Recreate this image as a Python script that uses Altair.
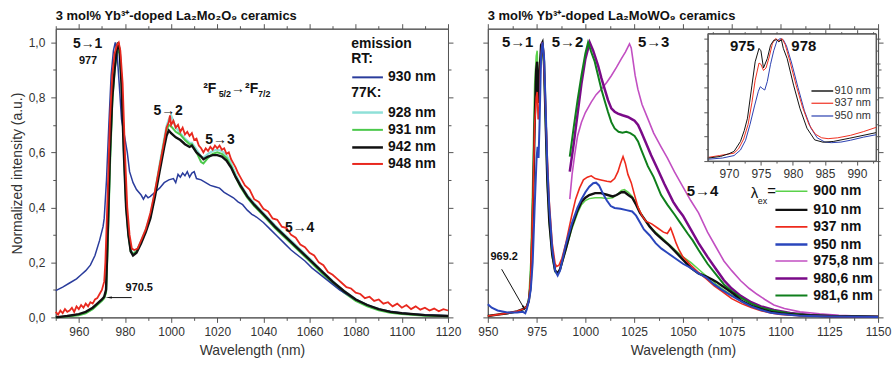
import altair as alt
import pandas as pd

FONT = "Liberation Sans"

# ---------------- left panel (La2Mo2O9) ----------------
L_BLUE_NM = [950, 953, 956, 959, 961, 963, 965, 967, 969, 970.5, 971, 972, 973, 974, 975, 975.8, 976.5, 977.5, 978.5,
             980, 981, 982, 983.5, 985, 987, 988, 989, 990, 991, 993, 995, 997, 999, 1001, 1002, 1003, 1004, 1005,
             1006, 1007, 1008, 1009, 1010, 1011, 1013, 1015, 1017, 1019, 1021, 1023, 1025, 1027, 1029, 1031, 1033,
             1035, 1037, 1040, 1043, 1046, 1049, 1052, 1055, 1058, 1061, 1064, 1067, 1070, 1073, 1076, 1080, 1085,
             1090, 1095, 1100, 1105, 1110, 1115, 1120]
L_BLUE_V = [0.097, 0.11, 0.125, 0.14, 0.155, 0.17, 0.19, 0.225, 0.28, 0.33, 0.36, 0.5, 0.7, 0.88, 0.97, 1.0, 0.97,
            0.85, 0.72, 0.65, 0.6, 0.53, 0.49, 0.465, 0.445, 0.43, 0.445, 0.435, 0.44, 0.455, 0.47, 0.49, 0.5, 0.505,
            0.49, 0.52, 0.51, 0.525, 0.515, 0.53, 0.51, 0.525, 0.53, 0.505, 0.5, 0.49, 0.48, 0.475, 0.47, 0.455,
            0.445, 0.435, 0.42, 0.41, 0.39, 0.375, 0.365, 0.345, 0.32, 0.295, 0.27, 0.245, 0.225, 0.205, 0.18, 0.16,
            0.14, 0.12, 0.1, 0.085, 0.065, 0.045, 0.03, 0.022, 0.016, 0.012, 0.01, 0.008, 0.006]

L_77K_NM = [950, 955, 960, 963, 966, 968, 970, 971, 971.8, 972.5, 973.5, 974.5, 975.5, 976.5, 977, 977.7, 978.5,
            979.5, 980.5, 981.5, 982.5, 983.5, 985, 987, 989, 991, 993, 995, 997, 998, 999, 1000, 1002, 1004, 1006,
            1008, 1009, 1011, 1013, 1014, 1016, 1018, 1020, 1022, 1024, 1026, 1028, 1030, 1033, 1036, 1040, 1045,
            1050, 1055, 1060, 1065, 1070, 1075, 1080, 1085, 1090, 1095, 1100, 1110, 1120]
L_BLACK_V = [0.0, 0.005, 0.012, 0.02, 0.035, 0.05, 0.065, 0.075, 0.1, 0.3, 0.6, 0.8, 0.9, 0.98, 1.0, 0.97, 0.85, 0.6,
             0.4, 0.3, 0.24, 0.225, 0.235, 0.27, 0.31, 0.36, 0.44, 0.53, 0.62, 0.66, 0.68, 0.67, 0.655, 0.645, 0.63,
             0.62, 0.625, 0.6, 0.585, 0.575, 0.585, 0.59, 0.59, 0.585, 0.57, 0.545, 0.51, 0.48, 0.44, 0.41, 0.375,
             0.33, 0.29, 0.25, 0.21, 0.17, 0.13, 0.095, 0.065, 0.045, 0.03, 0.02, 0.015, 0.008, 0.005]
L_GREEN_V = [0.0, 0.003, 0.008, 0.015, 0.03, 0.045, 0.06, 0.07, 0.09, 0.25, 0.55, 0.78, 0.9, 0.96, 0.97, 0.96, 0.86,
             0.62, 0.41, 0.3, 0.24, 0.23, 0.24, 0.275, 0.315, 0.365, 0.45, 0.545, 0.64, 0.68, 0.7, 0.695, 0.675,
             0.665, 0.645, 0.63, 0.63, 0.6, 0.565, 0.56, 0.58, 0.595, 0.6, 0.595, 0.58, 0.55, 0.51, 0.475, 0.435,
             0.405, 0.37, 0.325, 0.285, 0.245, 0.205, 0.163, 0.125, 0.09, 0.06, 0.04, 0.026, 0.017, 0.012, 0.006,
             0.004]
L_CYAN_V = [0.0, 0.004, 0.01, 0.017, 0.032, 0.047, 0.062, 0.072, 0.095, 0.28, 0.58, 0.8, 0.91, 0.97, 0.98, 0.965,
            0.86, 0.62, 0.41, 0.305, 0.245, 0.232, 0.242, 0.278, 0.32, 0.37, 0.455, 0.555, 0.65, 0.695, 0.72, 0.735,
            0.69, 0.67, 0.65, 0.635, 0.635, 0.61, 0.585, 0.58, 0.595, 0.605, 0.61, 0.605, 0.59, 0.56, 0.52, 0.485,
            0.445, 0.415, 0.38, 0.335, 0.295, 0.255, 0.215, 0.172, 0.132, 0.096, 0.066, 0.045, 0.03, 0.02, 0.014,
            0.007, 0.005]

L_RED_NM = [950, 951, 952, 953, 954, 955, 956, 957, 958, 959, 960, 961, 962, 963, 964, 965, 966, 967, 968, 969, 970,
            971, 971.5, 972.5, 973.5, 974.5, 975.5, 976.5, 977.3, 978, 979, 980, 981, 982, 983, 984, 985.5, 987, 989,
            991, 993, 995, 997, 998, 999, 999.5, 1000, 1001, 1002, 1003, 1004, 1005, 1006, 1007, 1008, 1009, 1010,
            1011, 1012, 1013, 1014, 1015, 1016, 1017, 1018, 1019, 1020, 1021, 1022, 1023, 1024, 1025, 1026, 1027,
            1028, 1029, 1030, 1032, 1034, 1036, 1038, 1040, 1042, 1044, 1046, 1048, 1050, 1052, 1054, 1056, 1058,
            1060, 1062, 1064, 1066, 1068, 1070, 1072, 1074, 1076, 1078, 1080, 1082, 1084, 1086, 1088, 1090, 1092,
            1094, 1096, 1098, 1100, 1102, 1104, 1106, 1108, 1110, 1112, 1114, 1116, 1118, 1120]
L_RED_V = [0.02, 0.01, 0.025, 0.015, 0.03, 0.02, 0.025, 0.035, 0.02, 0.04, 0.03, 0.045, 0.035, 0.05, 0.04, 0.055,
           0.05, 0.065, 0.07, 0.085, 0.1, 0.13, 0.2, 0.45, 0.72, 0.88, 0.96, 0.99, 1.0, 0.97, 0.85, 0.6, 0.4, 0.3,
           0.25, 0.245, 0.25, 0.28, 0.32, 0.38, 0.46, 0.55, 0.64, 0.69, 0.71, 0.735, 0.7, 0.715, 0.69, 0.7, 0.675,
           0.69, 0.665, 0.675, 0.66, 0.67, 0.645, 0.65, 0.625, 0.615, 0.6, 0.615, 0.605, 0.62, 0.61, 0.625, 0.615,
           0.625, 0.61, 0.615, 0.595, 0.6, 0.575, 0.56, 0.545, 0.525, 0.51, 0.48, 0.465, 0.43, 0.42, 0.395, 0.385,
           0.36, 0.355, 0.33, 0.325, 0.3, 0.29, 0.265, 0.255, 0.235, 0.225, 0.2, 0.19, 0.165, 0.155, 0.14, 0.125,
           0.11, 0.105, 0.09, 0.085, 0.07, 0.075, 0.06, 0.065, 0.05, 0.055, 0.04, 0.05, 0.035, 0.045, 0.03, 0.04,
           0.028, 0.035, 0.025, 0.032, 0.022, 0.03, 0.025]

# ---------------- right panel (La2MoWO9) ----------------
R_FULL_NM = [950, 955, 960, 965, 968, 970, 971, 972, 973, 974, 974.8, 975.3, 975.8, 976.5, 977.3, 978, 978.8, 979.5,
             980.5, 981.5, 983, 984.5, 985.8, 987, 990, 993, 996, 998, 1000, 1002, 1005, 1008, 1011, 1014, 1016,
             1018.5, 1020, 1022, 1024, 1026, 1028, 1030, 1033, 1036, 1040, 1043, 1046, 1050, 1054, 1058, 1062, 1065,
             1067, 1070, 1073, 1076, 1080, 1085, 1090, 1095, 1100, 1110, 1125, 1150]
R_900_V = [0.005, 0.01, 0.014, 0.02, 0.028, 0.04, 0.07, 0.2, 0.5, 0.85, 0.95, 0.97, 0.85, 0.9, 0.98, 0.99, 0.9, 0.72,
           0.48, 0.34, 0.22, 0.165, 0.158, 0.172, 0.245, 0.32, 0.38, 0.41, 0.425, 0.432, 0.435, 0.435, 0.432, 0.435,
           0.445, 0.462, 0.465, 0.455, 0.44, 0.415, 0.385, 0.36, 0.33, 0.31, 0.285, 0.265, 0.245, 0.22, 0.2, 0.175,
           0.15, 0.135, 0.12, 0.105, 0.09, 0.077, 0.058, 0.04, 0.028, 0.019, 0.013, 0.007, 0.003, 0.001]
R_910_V = [0.005, 0.01, 0.015, 0.022, 0.03, 0.04, 0.06, 0.12, 0.35, 0.7, 0.9, 0.93, 0.78, 0.88, 0.99, 1.0, 0.93, 0.75,
           0.5, 0.35, 0.23, 0.17, 0.16, 0.175, 0.25, 0.33, 0.39, 0.42, 0.435, 0.445, 0.452, 0.452, 0.446, 0.44,
           0.445, 0.455, 0.456, 0.445, 0.435, 0.41, 0.38, 0.36, 0.33, 0.305, 0.28, 0.262, 0.24, 0.21, 0.18, 0.16,
           0.148, 0.138, 0.13, 0.115, 0.1, 0.085, 0.06, 0.042, 0.03, 0.02, 0.014, 0.008, 0.004, 0.002]

R_937_NM = [950, 955, 960, 965, 968, 970, 971, 972, 973, 974, 974.8, 975.3, 975.8, 976.3, 977, 977.8, 978.5, 979.5,
            980.5, 981.5, 983, 984.5, 985.3, 986.5, 988, 990, 993, 995, 997, 999, 1001, 1003, 1005, 1008, 1011, 1013,
            1015, 1016.7, 1018, 1019.3, 1020.5, 1021.8, 1023.5, 1025, 1027, 1029, 1031, 1034, 1037, 1040, 1042,
            1043.7, 1045, 1046.5, 1048, 1050, 1054, 1058, 1062, 1066, 1070, 1075, 1080, 1085, 1090, 1095, 1100,
            1110, 1125, 1150]
R_937_V = [0.005, 0.01, 0.015, 0.022, 0.03, 0.04, 0.06, 0.15, 0.4, 0.7, 0.8, 0.82, 0.72, 0.74, 0.92, 1.0, 0.97, 0.78,
           0.58, 0.42, 0.27, 0.195, 0.185, 0.19, 0.215, 0.27, 0.37, 0.43, 0.47, 0.5, 0.51, 0.515, 0.505, 0.5, 0.495,
           0.493, 0.505, 0.53, 0.56, 0.585, 0.56, 0.52, 0.49, 0.45, 0.4, 0.37, 0.35, 0.34, 0.325, 0.31, 0.305, 0.325,
           0.3, 0.27, 0.245, 0.22, 0.19, 0.163, 0.14, 0.115, 0.095, 0.068, 0.05, 0.036, 0.024, 0.016, 0.011, 0.006,
           0.003, 0.001]

R_950_NM = [950, 952, 955, 960, 965, 968, 969.2, 970, 971, 972, 973, 974, 975, 975.5, 976, 976.5, 977.3, 978, 978.8,
            979.5, 980.5, 981.5, 983, 984.5, 985.8, 987, 990, 993, 996, 998, 1000, 1002, 1004, 1005.5, 1007, 1009,
            1011, 1013, 1015, 1018, 1021, 1024, 1026, 1028, 1030, 1033, 1036, 1039, 1042, 1046, 1050, 1054, 1058,
            1062, 1066, 1070, 1075, 1080, 1085, 1090, 1095, 1100, 1110, 1125, 1150]
R_950_V = [0.048, 0.035, 0.025, 0.018, 0.018, 0.02, 0.015, 0.03, 0.06, 0.1, 0.2, 0.4, 0.58, 0.62, 0.58, 0.7, 0.95,
           1.0, 0.95, 0.8, 0.55, 0.4, 0.25, 0.17, 0.152, 0.17, 0.265, 0.34, 0.4, 0.43, 0.455, 0.475, 0.488, 0.49,
           0.48, 0.45, 0.425, 0.405, 0.398, 0.395, 0.39, 0.385, 0.37, 0.345, 0.32, 0.298, 0.27, 0.25, 0.235, 0.215,
           0.195, 0.18, 0.16, 0.145, 0.12, 0.1, 0.078, 0.058, 0.04, 0.027, 0.017, 0.012, 0.006, 0.003, 0.001]

R_9816_NM = [992, 994, 996, 998, 1000, 1001.4, 1003, 1004.8, 1006.5, 1008.2, 1010, 1011.6, 1013.3, 1015, 1017, 1019,
             1021, 1023, 1025.2, 1027, 1028.6, 1030.3, 1032, 1035, 1038.8, 1042, 1045.6, 1049, 1052.4, 1055, 1058,
             1062.6, 1066, 1071, 1075, 1079.6, 1085, 1090, 1096.6, 1105, 1115, 1130, 1150]
R_9816_V = [0.585, 0.69, 0.79, 0.88, 0.96, 1.0, 0.965, 0.93, 0.88, 0.83, 0.785, 0.747, 0.71, 0.687, 0.675, 0.672,
            0.675, 0.67, 0.66, 0.64, 0.61, 0.58, 0.55, 0.51, 0.445, 0.41, 0.375, 0.34, 0.305, 0.28, 0.245, 0.195,
            0.165, 0.12, 0.095, 0.072, 0.05, 0.035, 0.024, 0.014, 0.008, 0.004, 0.002]

R_9806_NM = [992, 994, 996, 998, 1000, 1002.2, 1004, 1006.5, 1008.2, 1009.9, 1011.6, 1013.3, 1015, 1016.7, 1019,
             1021.8, 1024, 1025.2, 1027, 1028.6, 1031, 1033.7, 1037, 1040.5, 1045, 1047.3, 1050, 1054, 1058, 1062.6,
             1067, 1071, 1075, 1079.6, 1085, 1090, 1096.6, 1105, 1115, 1130, 1150]
R_9806_V = [0.53, 0.63, 0.74, 0.85, 0.94, 1.0, 0.97, 0.916, 0.87, 0.83, 0.79, 0.76, 0.748, 0.741, 0.735, 0.729, 0.72,
            0.715, 0.7, 0.675, 0.635, 0.59, 0.54, 0.485, 0.42, 0.395, 0.37, 0.32, 0.27, 0.22, 0.175, 0.135, 0.105,
            0.078, 0.055, 0.04, 0.027, 0.016, 0.009, 0.004, 0.002]

R_9758_NM = [992, 993.2, 994.5, 996, 998, 1000, 1003, 1005.5, 1008.2, 1011, 1013.3, 1016, 1018.4, 1020.5, 1022.6,
             1023.5, 1024.3, 1025.5, 1026.9, 1029, 1032, 1035, 1038.8, 1042, 1045.6, 1050, 1054, 1058, 1062.6, 1067,
             1071, 1075, 1079.6, 1084, 1088, 1092, 1096.6, 1102, 1110, 1120, 1130, 1140, 1150]
R_9758_V = [0.43, 0.52, 0.59, 0.66, 0.71, 0.745, 0.783, 0.81, 0.83, 0.855, 0.879, 0.91, 0.94, 0.965, 0.995, 0.98,
            0.94, 0.88, 0.83, 0.775, 0.723, 0.67, 0.62, 0.58, 0.53, 0.475, 0.425, 0.38, 0.31, 0.255, 0.205, 0.17,
            0.133, 0.105, 0.084, 0.065, 0.045, 0.032, 0.02, 0.013, 0.008, 0.005, 0.003]

# ---------------- inset (975 / 978 region) ----------------
I_910_NM = [966.7, 968.7, 970, 970.8, 971.8, 972.4, 972.9, 973.6, 974.1, 974.7, 975, 975.4, 976, 976.5, 977, 977.5,
            977.8, 978.2, 978.5, 979.1, 980.1, 981.1, 982.2, 983.4, 984.7, 986.3, 988.9, 993]
I_910_V = [0.024, 0.038, 0.06, 0.079, 0.16, 0.25, 0.35, 0.62, 0.81, 0.92, 0.9, 0.76, 0.837, 0.945, 0.986, 0.99,
           0.973, 0.99, 0.92, 0.837, 0.62, 0.43, 0.268, 0.173, 0.154, 0.16, 0.187, 0.232]
I_937_NM = [966.7, 968.5, 970.8, 971.5, 972.3, 973, 973.6, 974.1, 974.7, 975, 975.4, 975.8, 976.3, 976.8, 977.3,
            977.8, 978.3, 978.8, 979.5, 980.5, 981.5, 982.5, 983.5, 984.5, 985.5, 987, 989, 991, 993]
I_937_V = [0.03, 0.045, 0.065, 0.1, 0.18, 0.3, 0.48, 0.66, 0.8, 0.79, 0.74, 0.76, 0.85, 0.96, 1.0, 0.98, 1.0, 0.95,
           0.82, 0.62, 0.44, 0.3, 0.22, 0.19, 0.183, 0.19, 0.21, 0.24, 0.275]
I_950_NM = [966.7, 969, 970.8, 971.8, 972.6, 973.3, 974, 974.6, 974.9, 975.3, 975.6, 976, 976.5, 977, 977.5, 978,
            978.5, 979, 979.8, 980.8, 981.8, 982.8, 983.8, 985, 986, 987.5, 989, 991, 993]
I_950_V = [0.015, 0.025, 0.045, 0.09, 0.17, 0.3, 0.45, 0.57, 0.607, 0.59, 0.58, 0.65, 0.79, 0.9, 0.98, 1.0, 0.99,
           0.94, 0.8, 0.6, 0.41, 0.27, 0.19, 0.155, 0.15, 0.155, 0.17, 0.195, 0.215]

# ---------------- scales ----------------
L_XDOM = [950, 1120]
R_XDOM = [950, 1150]
YDOM = [0, 1.05]
IN_XDOM = [966.7, 993.0]
IN_YDOM = [0, 1.04]
IN_XRANGE = [221, 390]
IN_YRANGE = [133, 5]

L_W, R_W, H = 394, 392, 290

xs_l = alt.Scale(domain=L_XDOM, nice=False, zero=False)
xs_r = alt.Scale(domain=R_XDOM, nice=False, zero=False)
ys = alt.Scale(domain=YDOM, nice=False, zero=False)
xs_in = alt.Scale(domain=IN_XDOM, range=IN_XRANGE, nice=False, zero=False)
ys_in = alt.Scale(domain=IN_YDOM, range=IN_YRANGE, nice=False, zero=False)

AX_COL = "#555555"


def tsize(test, big=5, small=3):
    return {"condition": {"test": test, "value": big}, "value": small}


def line(nm, v, color, width, xs, yscale):
    df = pd.DataFrame({"nm": nm, "v": v})
    return alt.Chart(df).mark_line(color=color, strokeWidth=width).encode(
        x=alt.X("nm:Q", scale=xs, axis=None), y=alt.Y("v:Q", scale=yscale, axis=None))


def texts(rows, xs, yscale, size, weight="bold", align="center", baseline="middle", color="#111111"):
    df = pd.DataFrame(rows, columns=["nm", "v", "t"])
    return alt.Chart(df).mark_text(font=FONT, fontSize=size, fontWeight=weight, align=align,
                                   baseline=baseline, color=color).encode(
        x=alt.X("nm:Q", scale=xs, axis=None), y=alt.Y("v:Q", scale=yscale, axis=None), text="t:N")


def legend_rows(x1, x2, entries, xs, yscale):
    layers = []
    for v, color, w in entries:
        d = pd.DataFrame({"x1": [x1], "x2": [x2], "v": [v]})
        layers.append(alt.Chart(d).mark_rule(color=color, strokeWidth=w).encode(
            x=alt.X("x1:Q", scale=xs, axis=None), x2="x2:Q", y=alt.Y("v:Q", scale=yscale, axis=None)))
    return layers


def axes_carrier(xdom, xs, yscale, xvals, xtest, xlabel_expr, yvals, ytest, ylabel_expr,
                 xorient="bottom", yorient="left", xoff=0, yoff=0, zindex=0, big=5, small=3,
                 xextra=None, yextra=None):
    df = pd.DataFrame({"nm": xdom, "v": [yscale.domain[0], yscale.domain[1]]})
    xa = dict(orient=xorient, values=xvals, tickSize=tsize(xtest, big, small), domain=True, grid=False,
              offset=xoff, zindex=zindex, title=None, labelFlush=False)
    ya = dict(orient=yorient, values=yvals, tickSize=tsize(ytest, big, small), domain=True, grid=False,
              offset=yoff, zindex=zindex, title=None, labelFlush=False)
    if xlabel_expr:
        xa.update(labels=True, labelExpr=xlabel_expr)
    else:
        xa.update(labels=False)
    if ylabel_expr:
        ya.update(labels=True, labelExpr=ylabel_expr)
    else:
        ya.update(labels=False)
    if xextra:
        xa.update(xextra)
    if yextra:
        ya.update(yextra)
    return alt.Chart(df).mark_point(opacity=0, size=1).encode(
        x=alt.X("nm:Q", scale=xs, axis=alt.Axis(**xa)),
        y=alt.Y("v:Q", scale=yscale, axis=alt.Axis(**ya)))


Y_VALS = [round(i * 0.1, 1) for i in range(11)]
Y_TEST = "round(datum.value*10) % 2 === 0"
Y_LABEL = "round(datum.value*10) % 2 === 0 ? replace(format(datum.value, '.1f'), '.', ',') : ''"

L_XVALS = list(range(950, 1121, 10))
L_XTEST = "datum.value % 20 === 0"
L_XLABEL = "datum.value % 20 === 0 ? format(datum.value, 'd') : ''"

R_XVALS = [950 + 12.5 * i for i in range(17)]
R_XTEST = "datum.value % 25 === 0"
R_XLABEL = "datum.value % 25 === 0 ? format(datum.value, 'd') : ''"

IN_XVALS = [967.5 + 2.5 * i for i in range(11)]
IN_XTEST = "datum.value % 5 === 0"
IN_XLABEL = "datum.value % 5 === 0 ? format(datum.value, 'd') : ''"
IN_YVALS = [0.1 * i for i in range(11)]
IN_YTEST = "round(datum.value*10) % 2 === 0"

X_TITLE = dict(title="Wavelength (nm)", titlePadding=6, labelPadding=4)
Y_TITLE = dict(title="Normalized intensity (a.u.)", titleX=-31, titleY=145, titleBaseline="bottom",
               titleAngle=270, labelPadding=6)

# ---------------- build left ----------------
left_layers = [
    axes_carrier(L_XDOM, xs_l, ys, L_XVALS, L_XTEST, L_XLABEL, Y_VALS, Y_TEST, Y_LABEL,
                 xextra=X_TITLE, yextra=Y_TITLE),
    axes_carrier(L_XDOM, xs_l, ys, L_XVALS, L_XTEST, None, Y_VALS, Y_TEST, None,
                 xorient="top", yorient="right"),
    line(L_77K_NM, L_CYAN_V, "#8fe0d8", 2.2, xs_l, ys),
    line(L_77K_NM, L_GREEN_V, "#4cc94c", 2.0, xs_l, ys),
    line(L_BLUE_NM, L_BLUE_V, "#2a3c9c", 1.5, xs_l, ys),
    line(L_77K_NM, L_BLACK_V, "#111111", 2.4, xs_l, ys),
    line(L_RED_NM, L_RED_V, "#e8281e", 1.8, xs_l, ys),
]
left_layers += legend_rows(1078.5, 1091.8, [
    (0.873, "#2a3c9c", 2.0), (0.745, "#8fe0d8", 2.5), (0.682, "#4cc94c", 2.0),
    (0.618, "#111111", 2.5), (0.558, "#e8281e", 2.0)], xs_l, ys)
left_layers += [
    texts([(1094, 0.873, "930 nm"), (1094, 0.745, "928 nm"), (1094, 0.682, "931 nm"),
           (1094, 0.618, "942 nm"), (1094, 0.558, "948 nm"),
           (1078.1, 0.996, "emission"), (1078.1, 0.938, "RT:"), (1078.1, 0.815, "77K:")],
          xs_l, ys, 14, align="left"),
    texts([(963.8, 0.996, "5→1"), (998.7, 0.75, "5→2"), (1021.2, 0.645, "5→3"), (1055.7, 0.326, "5→4")],
          xs_l, ys, 14),
    texts([(964.0, 0.933, "977"), (986.2, 0.105, "970.5")], xs_l, ys, 11),
    texts([(1013.9, 0.815, "²F"), (1026.0, 0.815, "→²F")], xs_l, ys, 14, align="left", baseline="alphabetic"),
    texts([(1020.6, 0.800, "5/2"), (1037.7, 0.800, "7/2")], xs_l, ys, 9, align="left", baseline="alphabetic"),
]
L_ARROW = pd.DataFrame({"x1": [982.9], "x2": [973.4], "v": [0.072]})
left_layers += [
    alt.Chart(L_ARROW).mark_rule(color="#111111", strokeWidth=1).encode(
        x=alt.X("x1:Q", scale=xs_l, axis=None), x2="x2:Q", y=alt.Y("v:Q", scale=ys, axis=None)),
    alt.Chart(L_ARROW).mark_point(shape="wedge", angle=270, filled=True, size=60, color="#111111",
                                  opacity=1).encode(
        x=alt.X("x2:Q", scale=xs_l, axis=None), y=alt.Y("v:Q", scale=ys, axis=None)),
]

left = alt.layer(*left_layers).resolve_axis(x="independent", y="independent").properties(
    width=L_W, height=H,
    title=alt.TitleParams("3 mol% Yb³⁺-doped La₂Mo₂O₉ ceramics", anchor="start", frame="group",
                          fontSize=13, fontWeight="bold", font=FONT, offset=0, color="#111111"))

# ---------------- build right main ----------------
right_layers = [
    axes_carrier(R_XDOM, xs_r, ys, R_XVALS, R_XTEST, R_XLABEL, Y_VALS, Y_TEST, None, xextra=X_TITLE),
    axes_carrier(R_XDOM, xs_r, ys, R_XVALS, R_XTEST, None, Y_VALS, Y_TEST, None,
                 xorient="top", yorient="right"),
    line(R_9758_NM, R_9758_V, "#c24fc2", 1.6, xs_r, ys),
    line(R_9806_NM, R_9806_V, "#7a0a88", 2.5, xs_r, ys),
    line(R_9816_NM, R_9816_V, "#0f7f1c", 2.0, xs_r, ys),
    line(R_FULL_NM, R_900_V, "#5ad24a", 1.5, xs_r, ys),
    line(R_FULL_NM, R_910_V, "#111111", 2.4, xs_r, ys),
    line(R_937_NM, R_937_V, "#ee2a1c", 1.6, xs_r, ys),
    line(R_950_NM, R_950_V, "#2a46bc", 2.0, xs_r, ys),
]
right_layers += legend_rows(1097.4, 1113.8, [
    (0.459, "#5ad24a", 1.5), (0.391, "#111111", 2.5), (0.329, "#ee2a1c", 1.6), (0.265, "#2a46bc", 2.5),
    (0.205, "#c24fc2", 1.6), (0.141, "#7a0a88", 2.5), (0.0795, "#0f7f1c", 2.0)], xs_r, ys)
right_layers += [
    texts([(1116.8, 0.459, "900 nm"), (1116.8, 0.391, "910 nm"), (1116.8, 0.329, "937 nm"),
           (1116.8, 0.265, "950 nm"), (1116.8, 0.205, "975,8 nm"), (1116.8, 0.141, "980,6 nm"),
           (1116.8, 0.0795, "981,6 nm")], xs_r, ys, 14, align="left"),
    texts([(1084.7, 0.452, "λ"), (1093.2, 0.459, "=")], xs_r, ys, 15, weight="normal", align="left"),
    texts([(1088.4, 0.425, "ex")], xs_r, ys, 9, weight="normal", align="left"),
    texts([(965.3, 1.0, "5→1"), (990.8, 1.0, "5→2"), (1035.0, 1.0, "5→3"), (1060.0, 0.459, "5→4")],
          xs_r, ys, 15),
    texts([(958.4, 0.22, "969.2")], xs_r, ys, 11),
]
R_ARROW = pd.DataFrame({"x1": [957.1], "v1": [0.175], "x2": [968.4], "v2": [0.035]})
right_layers += [
    alt.Chart(R_ARROW).mark_rule(color="#111111", strokeWidth=1).encode(
        x=alt.X("x1:Q", scale=xs_r, axis=None), x2="x2:Q",
        y=alt.Y("v1:Q", scale=ys, axis=None), y2="v2:Q"),
    alt.Chart(R_ARROW).mark_point(shape="wedge", angle=151, filled=True, size=60, color="#111111",
                                  opacity=1).encode(
        x=alt.X("x2:Q", scale=xs_r, axis=None), y=alt.Y("v2:Q", scale=ys, axis=None)),
]
right_main = alt.layer(*right_layers).resolve_axis(x="independent", y="independent")

# ---------------- inset ----------------
IN_FRAME = pd.DataFrame({"x1": [IN_XDOM[0]], "x2": [IN_XDOM[1]], "y1": [IN_YDOM[0]], "y2": [IN_YDOM[1]]})
inset_layers = [
    alt.Chart(IN_FRAME).mark_rect(fill="white", stroke=AX_COL, strokeWidth=1).encode(
        x=alt.X("x1:Q", scale=xs_in, axis=None), x2="x2:Q",
        y=alt.Y("y1:Q", scale=ys_in, axis=None), y2="y2:Q"),
    axes_carrier(IN_XDOM, xs_in, ys_in, IN_XVALS, IN_XTEST, IN_XLABEL, IN_YVALS, IN_YTEST, None,
                 xoff=IN_YRANGE[0] - H, yoff=-IN_XRANGE[0], zindex=1, big=4, small=2,
                 xextra=dict(labelPadding=3)),
    axes_carrier(IN_XDOM, xs_in, ys_in, IN_XVALS, IN_XTEST, None, IN_YVALS, IN_YTEST, None,
                 xorient="top", yorient="right",
                 xoff=-IN_YRANGE[1], yoff=IN_XRANGE[1] - R_W, zindex=1, big=4, small=2),
    line(I_950_NM, I_950_V, "#2a40b0", 1.0, xs_in, ys_in),
    line(I_937_NM, I_937_V, "#f03020", 1.0, xs_in, ys_in),
    line(I_910_NM, I_910_V, "#111111", 1.0, xs_in, ys_in),
]
inset_layers += legend_rows(982.9, 986.3, [(0.572, "#555555", 2.0), (0.472, "#f03020", 1.2),
                                            (0.368, "#2a40b0", 1.2)], xs_in, ys_in)
inset_layers += [
    texts([(986.5, 0.572, "910 nm"), (986.5, 0.472, "937 nm"), (986.5, 0.368, "950 nm")],
          xs_in, ys_in, 11, weight="normal", align="left", color="#333333"),
    texts([(972.1, 0.94, "975"), (981.7, 0.94, "978")], xs_in, ys_in, 15),
]
inset = alt.layer(*inset_layers).resolve_axis(x="independent", y="independent")

right = alt.layer(right_main, inset).resolve_scale(x="independent", y="independent").properties(
    width=R_W, height=H,
    title=alt.TitleParams("3 mol% Yb³⁺-doped La₂MoWO₉ ceramics", anchor="start", frame="group",
                          fontSize=13, fontWeight="bold", font=FONT, offset=0, color="#111111"))

chart = alt.hconcat(left, right, spacing=15).resolve_scale(x="independent", y="independent").properties(
    padding={"left": 10, "top": 9, "right": 0, "bottom": 0}
).configure(font=FONT, background="white").configure_view(
    stroke=AX_COL, strokeWidth=1
).configure_axis(
    domainColor=AX_COL, tickColor=AX_COL, labelColor="#333333", labelFont=FONT, labelFontSize=12,
    titleFont=FONT, titleFontSize=14, titleFontWeight="normal", titleColor="#333333", labelPadding=5,
    tickWidth=1, domainWidth=1
)

chart.save("out.html", embed_options={"renderer": "svg", "actions": False})
